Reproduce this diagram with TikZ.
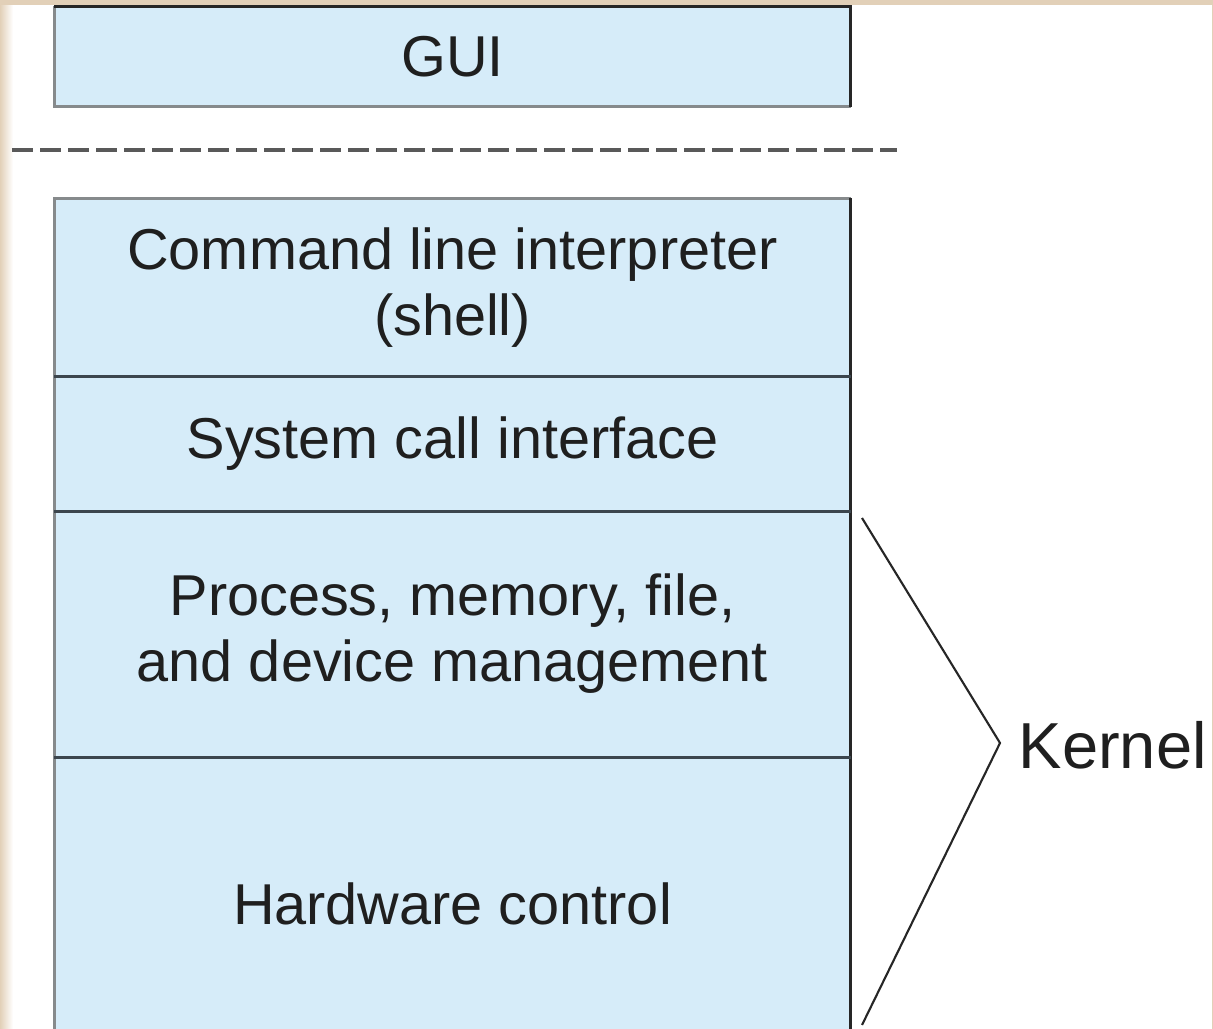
\documentclass[tikz,border=0pt]{standalone}
\usepackage{fontspec}
\setmainfont{Liberation Sans}
\usetikzlibrary{positioning}

\definecolor{layerblue}{HTML}{D6ECF9}
\definecolor{edgegray}{HTML}{868A8C}
\definecolor{slate}{HTML}{3C464E}
\definecolor{paper}{HTML}{E2D0B8}

\begin{document}
\begin{tikzpicture}
        [
            layer/.style={rectangle, fill=layerblue, minimum width=7.95cm, inner sep=0pt,
                          align=center, text=black!88, font=\fontsize{16.4}{18.8}\selectfont},
            divider/.style={slate, line width=0.9pt},
            brace/.style={black!85, line width=0.6pt},
        ]
            \useasboundingbox (0,0) rectangle (12.13,-10.29);
            \clip (0,0) rectangle (12.13,-10.29);
            % paper edge
            \fill[white] (0,0) rectangle (12.13,-10.29);
            \shade[left color=paper, right color=white] (0,0) rectangle (0.13,-10.29);
            \fill[paper] (0,0) rectangle (12.13,-0.05);
            \fill[paper] (12.12,0) rectangle (12.13,-10.29);

            \node[layer, minimum height=0.99cm] (GUI) at (4.525,-0.565) {GUI};
            \node[layer, minimum height=1.77cm] (CLI) at (4.525,-2.875) {Command line interpreter\\(shell)};
            \node[layer, minimum height=1.35cm] (SCI) at (4.525,-4.435) {System call interface};
            \node[layer, minimum height=2.46cm] (PM) at (4.525,-6.34) {Process, memory, file,\\and device management};
            \node[layer, minimum height=2.93cm] (HW) at (4.525,-9.035) {Hardware control};

            % outlines
            \draw[edgegray, line width=0.9pt] (GUI.north west) -- (GUI.south west) -- (GUI.south east);
            \draw[black!85, line width=0.9pt] (GUI.north west) -- (GUI.north east) -- (GUI.south east);
            \draw[edgegray, line width=0.9pt] (HW.south west) -- (CLI.north west) -- (CLI.north east);
            \draw[black!85, line width=0.9pt] (CLI.north east) -- (HW.south east);
            \draw[divider] (CLI.south west) -- (CLI.south east);
            \draw[divider] (SCI.south west) -- (SCI.south east);
            \draw[divider] (PM.south west) -- (PM.south east);

            % user / kernel split
            \coordinate (D1) at (0.12,-1.50);
            \coordinate (D2) at (8.97,-1.50);
            \draw[black!65, line width=0.9pt, dash pattern=on 0.21cm off 0.07cm] (D1) -- (D2);

            \node[font=\fontsize{18.5}{21}\selectfont, text=black!88, anchor=west, inner sep=0pt] (K) at (10.18,-7.45) {Kernel};
            \coordinate (B1) at (8.62,-5.18);
            \coordinate (B2) at (10.00,-7.43);
            \coordinate (B3) at (8.62,-10.25);
            \draw[brace] (B1) -- (B2) -- (B3);
        \end{tikzpicture}
\end{document}
